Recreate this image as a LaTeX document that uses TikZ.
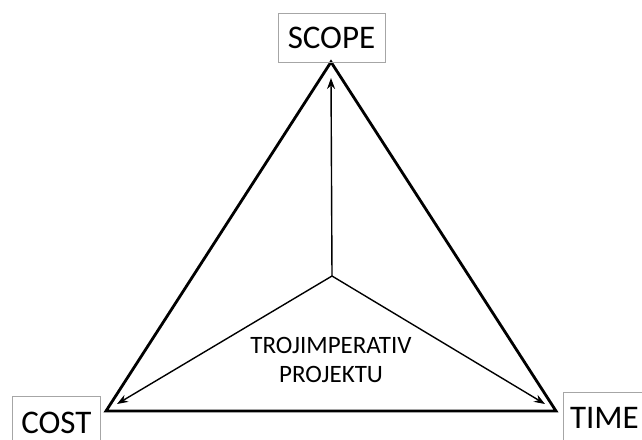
\documentclass[tikz,border=0pt]{standalone}
\usepackage{fontspec}
\setmainfont{Carlito}
\usetikzlibrary{arrows.meta}
\begin{document}
\begin{tikzpicture}[x=1pt,y=-1pt,
  labelbox/.style={draw=gray!70, line width=0.8pt, inner sep=0pt, font=\fontsize{33}{36}\selectfont, text=black},
  side/.style={line width=2.8pt, line join=miter},
  pointer/.style={line width=1.4pt, -{Stealth[length=11pt,width=8pt]}}]
\useasboundingbox (0,0) rectangle (642,439);
\coordinate (top) at (331,62);
\coordinate (left) at (106,411);
\coordinate (right) at (556,411);
\coordinate (mid) at (332,276);
\coordinate (ttop) at (331,78);
\coordinate (tleft) at (117,404);
\coordinate (tright) at (545,404);
\draw[side] (top) -- (right) -- (left) -- cycle;
\draw[pointer] (mid) -- (ttop);
\draw[pointer] (mid) -- (tleft);
\draw[pointer] (mid) -- (tright);
\node[labelbox, minimum width=107pt, minimum height=49pt] (scope) at (331.5,37.5) {SCOPE};
\node[labelbox, minimum width=88pt, minimum height=52pt, anchor=north west] (cost) at (12,396) {\raisebox{-2pt}{COST}};
\node[labelbox, minimum width=82pt, minimum height=52pt, anchor=north west] (time) at (563,392) {\raisebox{-2pt}{TIME}};
\node[font=\fontsize{25}{29}\selectfont, align=center] (lbl) at (331,360) {TROJIMPERATIV\\PROJEKTU};
\end{tikzpicture}
\end{document}
